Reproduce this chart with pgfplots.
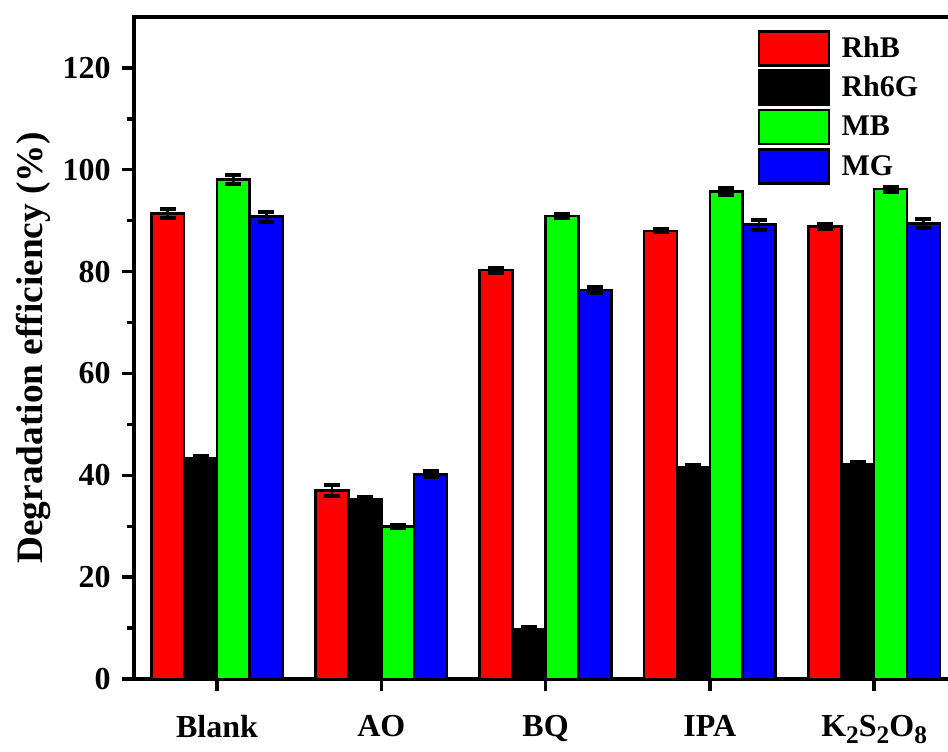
\documentclass[border=0pt]{standalone}
\usepackage{fontspec}
\setmainfont{Liberation Serif}
\usepackage{pgfplots}
\usepackage{pgfplotstable}
\pgfplotsset{compat=1.18}

% degradation efficiency (%) and its error for each scavenger
\pgfplotstableread{
x RhB eRhB Rh6G eRh6G MB eMB MG eMG
0 91.4 0.9 43.4 0.4 98.1 0.8 90.8 1.0
1 37.0 1.0 35.3 0.5 29.9 0.3 40.2 0.6
2 80.3 0.5 9.8 0.5 90.9 0.4 76.4 0.6
3 88.0 0.3 41.6 0.4 95.7 0.7 89.2 1.0
4 88.9 0.5 42.2 0.4 96.2 0.5 89.5 0.9
}\effdata

% lowered subscript used in the persulfate label
\newcommand{\sub}[1]{\raisebox{-0.2em}{\fontsize{19}{22}\selectfont #1}}

\pgfplotsset{
  boxlegend/.style={legend image code/.code={%
    \draw[##1, line width=2pt] (0pt,-12.75pt) rectangle (52.5pt,12.75pt);
    \path (59pt,0pt);}},
  errs/.style={error bars/.cd, y dir=both, y explicit,
    error bar style={line width=2pt, black},
    error mark options={rotate=90, mark size=6pt, line width=3pt, black}},
}

\begin{document}
\begin{tikzpicture}
\useasboundingbox (-100.5pt,-54pt) rectangle (610.5pt,509.25pt);
\begin{axis}[
  at={(0pt,0pt)}, anchor=south west,
  scale only axis, width=616.7pt, height=496.5pt,
  xmin=-0.505, xmax=4.5, ymin=0, ymax=130,
  ybar=0pt, bar width=0.2,
  axis line style={line width=3pt},
  tick align=outside, xtick pos=lower, ytick pos=left,
  xtick={0,1,2,3,4},
  xticklabels={Blank,AO,BQ,IPA,K\sub{2}S\sub{2}O\sub{8}},
  ytick={0,20,...,120}, minor y tick num=1,
  major tick length=9pt, minor tick length=5pt,
  every major tick/.append style={line width=2.5pt, black},
  every minor tick/.append style={line width=2.5pt, black},
  /pgf/number format/assume math mode=true,
  ticklabel style={font=\fontsize{24}{28}\selectfont\bfseries},
  yticklabel style={xshift=-5pt},
  xticklabel style={yshift=-15pt, text depth=0pt},
  ylabel={Degradation efficiency (\%)},
  ylabel style={font=\fontsize{28}{32}\selectfont\bfseries,
    at={(axis description cs:-0.1107,0.5)}, anchor=base},
  legend style={draw=none, fill=none, at={(0.758,0.981)}, anchor=north west,
    font=\fontsize{22.5}{27}\selectfont\bfseries, row sep=2pt, inner sep=0pt,
    cells={anchor=west}},
]
\addplot[fill=red, draw=black, line width=2pt, boxlegend, errs]
  table[x=x, y=RhB, y error=eRhB]{\effdata};
\addlegendentry{RhB}
\addplot[fill=black, draw=black, line width=2pt, boxlegend, errs]
  table[x=x, y=Rh6G, y error=eRh6G]{\effdata};
\addlegendentry{Rh6G}
\addplot[fill=green, draw=black, line width=2pt, boxlegend, errs]
  table[x=x, y=MB, y error=eMB]{\effdata};
\addlegendentry{MB}
\addplot[fill=blue, draw=black, line width=2pt, boxlegend, errs]
  table[x=x, y=MG, y error=eMG]{\effdata};
\addlegendentry{MG}
\end{axis}
\end{tikzpicture}
\end{document}
